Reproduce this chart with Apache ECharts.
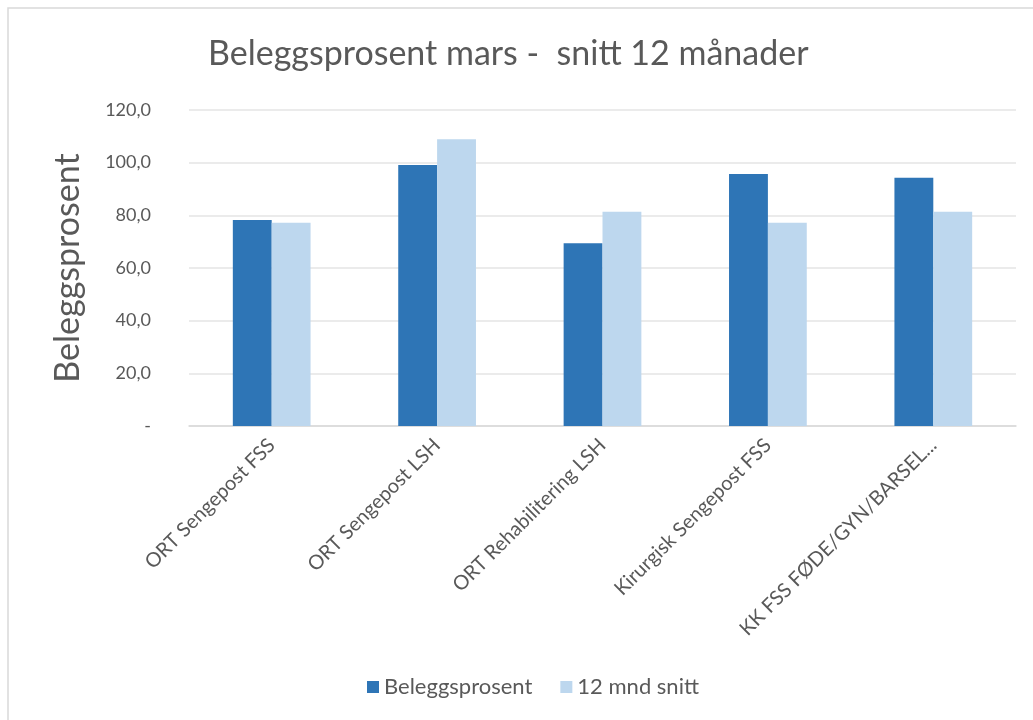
<!DOCTYPE html>
<html>
<head>
<meta charset="utf-8">
<script src="https://cdn.jsdelivr.net/npm/echarts@6/dist/echarts.min.js"></script>
<style>
  html, body { margin: 0; padding: 0; background: #f2f2f2; }
  #echart { width: 1033px; height: 720px; }
</style>
</head>
<body>
<div id="echart"></div>
<script>
// kategoriar og verdiar lesne av biletet
const categories = [
  "ORT Sengepost FSS",
  "ORT Sengepost LSH",
  "ORT Rehabilitering LSH",
  "Kirurgisk Sengepost FSS",
  "KK FSS FØDE/GYN/BARSEL..."
];
const beleggsprosent = [78.2, 99.1, 69.4, 95.7, 94.3];
const snitt12mnd = [77.2, 108.9, 81.4, 77.2, 81.4];
const seriesNames = ["Beleggsprosent", "12 mnd snitt"];

const font = "Lato, 'Open Sans', sans-serif";

const chart = echarts.init(document.getElementById("echart"));
chart.setOption({
  backgroundColor: "#ffffff",
  textStyle: { fontFamily: font },
  graphic: [
    {
      type: "rect",
      shape: { x: 8, y: 8, width: 1040, height: 720 },
      style: { fill: "none", stroke: "#d9d9d9", lineWidth: 1.5 },
      silent: true
    }
  ],
  title: {
    text: "Beleggsprosent mars -  snitt 12 månader",
    left: 203,
    top: 32,
    textStyle: { fontSize: 34, fontWeight: "normal", color: "#595959", fontFamily: font }
  },
  legend: {
    data: seriesNames,
    bottom: 17,
    left: 362,
    itemWidth: 12,
    itemHeight: 12,
    itemGap: 28,
    icon: "rect",
    textStyle: { fontSize: 22, color: "#595959", fontFamily: font }
  },
  grid: {
    left: 189,
    right: 17,
    top: 110,
    bottom: 294
  },
  xAxis: {
    type: "category",
    data: categories,
    axisTick: { show: false },
    axisLine: { lineStyle: { color: "#d9d9d9", width: 1.5 } },
    axisLabel: {
      rotate: 45,
      interval: 0,
      margin: 16,
      fontSize: 20,
      color: "#595959",
      fontFamily: font
    }
  },
  yAxis: {
    type: "value",
    min: 0,
    max: 120,
    interval: 20,
    name: "Beleggsprosent",
    nameLocation: "middle",
    nameRotate: 90,
    nameGap: 104,
    nameTextStyle: { fontSize: 34, color: "#595959", fontFamily: font },
    axisLine: { show: false },
    axisTick: { show: false },
    splitLine: { lineStyle: { color: "#e4e4e4", width: 1.5 } },
    axisLabel: {
      margin: 38,
      fontSize: 18,
      color: "#595959",
      fontFamily: font,
      formatter: v => (v === 0 ? "-" : v.toFixed(1).replace(".", ","))
    }
  },
  series: [
    {
      name: seriesNames[0],
      type: "bar",
      data: beleggsprosent,
      barGap: "0%",
      barCategoryGap: "53%",
      itemStyle: { color: "#2e75b6" }
    },
    {
      name: seriesNames[1],
      type: "bar",
      data: snitt12mnd,
      itemStyle: { color: "#bdd7ee" }
    }
  ]
});
</script>
</body>
</html>
